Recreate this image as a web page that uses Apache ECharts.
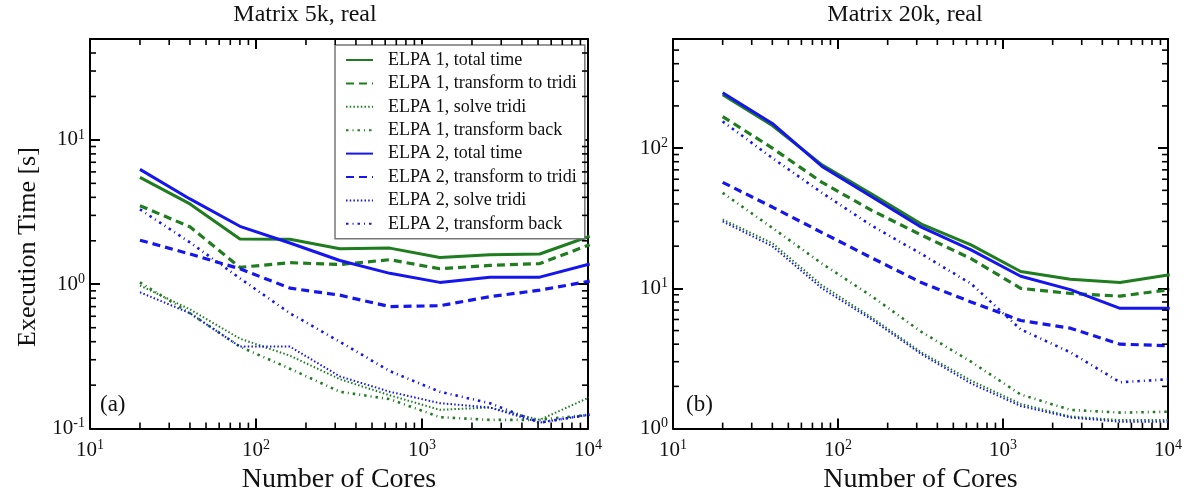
<!DOCTYPE html>
<html>
<head>
<meta charset="utf-8">
<script src="https://cdn.jsdelivr.net/npm/echarts@6/dist/echarts.min.js"></script>
<style>html,body{margin:0;padding:0;background:#fff;}#c{width:1186px;height:499px;}</style>
</head>
<body>
<div id="c"></div>
<script>
// ---- data ----
const cores = [20, 40, 80, 160, 320, 640, 1280, 2560, 5120, 10240];

// Matrix 5k, real
const e1Total5k = [5.5, 3.6, 2.06, 2.05, 1.76, 1.78, 1.53, 1.6, 1.62, 2.15];
const e1Tridi5k = [3.5, 2.5, 1.31, 1.41, 1.37, 1.48, 1.28, 1.35, 1.39, 1.88];
const e1Solve5k = [0.98, 0.67, 0.42, 0.32, 0.22, 0.17, 0.135, 0.14, 0.115, 0.165];
const e1Back5k  = [1.03, 0.63, 0.37, 0.26, 0.18, 0.16, 0.12, 0.115, 0.115, 0.125];
const e2Total5k = [6.25, 3.9, 2.52, 1.93, 1.46, 1.19, 1.03, 1.12, 1.12, 1.38];
const e2Tridi5k = [2.02, 1.62, 1.28, 0.94, 0.84, 0.70, 0.71, 0.82, 0.91, 1.05];
const e2Solve5k = [0.88, 0.63, 0.37, 0.37, 0.23, 0.18, 0.15, 0.14, 0.11, 0.125];
const e2Back5k  = [3.3, 1.95, 1.1, 0.63, 0.4, 0.25, 0.18, 0.15, 0.11, 0.125];

// Matrix 20k, real
const e1Total20k = [240, 145, 76, 47, 28.7, 20.4, 13.2, 11.6, 11.0, 12.5];
const e1Tridi20k = [168, 100, 57, 36, 24, 16.3, 10, 9.2, 8.8, 9.8];
const e1Solve20k = [31, 21, 10.5, 6.2, 3.5, 2.2, 1.5, 1.22, 1.15, 1.15];
const e1Back20k  = [48, 27, 15, 8.8, 4.9, 3.0, 1.75, 1.36, 1.3, 1.32];
const e2Total20k = [248, 150, 74, 45, 27.3, 18.8, 12.2, 9.8, 7.2, 7.2];
const e2Tridi20k = [57, 38, 25, 16.5, 11, 8, 5.9, 5.2, 4.0, 3.9];
const e2Solve20k = [30, 20, 10, 6.0, 3.4, 2.1, 1.45, 1.2, 1.12, 1.12];
const e2Back20k  = [155, 85, 48, 28, 17.6, 10.8, 5.1, 3.5, 2.14, 2.25];

const seriesNames = [
  'ELPA 1, total time', 'ELPA 1, transform to tridi', 'ELPA 1, solve tridi', 'ELPA 1, transform back',
  'ELPA 2, total time', 'ELPA 2, transform to tridi', 'ELPA 2, solve tridi', 'ELPA 2, transform back'
];
const panelTitles = ['Matrix 5k, real', 'Matrix 20k, real'];
const panelTags = ['(a)', '(b)'];
const xTitle = 'Number of Cores';
const yTitle = 'Execution Time [s]';
const xRange = [10, 10000];
const yRanges = [[0.1, 50], [1, 600]];
const minorMultipliers = [2, 3, 4, 5, 6, 7, 8, 9];

// ---- styles ----
const FONT = 'Liberation Serif';
const GREEN = '#1f7d1f';
const BLUE = '#1515ee';
const dashStyles = [
  {type: 'solid', width: 3},
  {type: [8, 5], width: 3.2},
  {type: [1.5, 2.2], width: 2},
  {type: [2.5, 4, 1, 4], width: 2.6}
];

const panelData = [
  [e1Total5k, e1Tridi5k, e1Solve5k, e1Back5k, e2Total5k, e2Tridi5k, e2Solve5k, e2Back5k],
  [e1Total20k, e1Tridi20k, e1Solve20k, e1Back20k, e2Total20k, e2Tridi20k, e2Solve20k, e2Back20k]
];

const grids = [
  {left: 90, right: 598, top: 39, bottom: 64},
  {left: 673, right: 18, top: 39, bottom: 64}
];

function supFmt(v) {
  const l = Math.log10(v);
  const e = Math.round(l);
  if (Math.abs(l - e) > 1e-6) return '';
  return '{b|10}{e|' + e + '}';
}
const richSup = {
  b: {fontFamily: FONT, fontSize: 21, color: '#111', lineHeight: 24},
  e: {fontFamily: FONT, fontSize: 14, color: '#111', lineHeight: 14, verticalAlign: 'top'}
};
const axisLine = {show: true, lineStyle: {color: '#000', width: 2}};
const majorTick = {show: true, inside: true, length: 10, lineStyle: {color: '#000', width: 2}};

const xAxes = [], yAxes = [], series = [];
for (let g = 0; g < 2; g++) {
  xAxes.push({
    gridIndex: g, type: 'log', logBase: 10, min: xRange[0], max: xRange[1], position: 'bottom',
    axisLine, axisTick: majorTick, splitLine: {show: false},
    axisLabel: {formatter: supFmt, rich: richSup, margin: 10},
    name: xTitle, nameLocation: 'middle', nameGap: 37,
    nameTextStyle: {fontFamily: FONT, fontSize: 28, color: '#111'}
  });
  xAxes.push({
    gridIndex: g, type: 'log', logBase: 10, min: xRange[0], max: xRange[1], position: 'top',
    axisLine, axisTick: majorTick, splitLine: {show: false}, axisLabel: {show: false}
  });
  yAxes.push({
    gridIndex: g, type: 'log', logBase: 10, min: yRanges[g][0], max: yRanges[g][1], position: 'left',
    axisLine, axisTick: majorTick, splitLine: {show: false},
    axisLabel: {formatter: supFmt, rich: richSup, margin: 5}
  });
  yAxes.push({
    gridIndex: g, type: 'log', logBase: 10, min: yRanges[g][0], max: yRanges[g][1], position: 'right',
    axisLine, axisTick: majorTick, splitLine: {show: false}, axisLabel: {show: false}
  });

  for (let s = 0; s < 8; s++) {
    const st = dashStyles[s % 4];
    series.push({
      name: seriesNames[s], type: 'line', xAxisIndex: g * 2, yAxisIndex: g * 2,
      data: cores.map((c, i) => [c, panelData[g][s][i]]),
      symbol: 'none', showSymbol: false, smooth: false,
      lineStyle: {color: s < 4 ? GREEN : BLUE, width: st.width, type: st.type, cap: 'butt'},
      itemStyle: {color: s < 4 ? GREEN : BLUE},
      z: 3
    });
  }

  // minor ticks (log 2..9 per decade) on all four sides, via the axes' own scales
  const yr = yRanges[g];
  const minorData = [];
  for (let k = 1; k < 4; k++) minorMultipliers.forEach(m => minorData.push([m * Math.pow(10, k), yr[0], 0]));
  for (let k = Math.round(Math.log10(yr[0])); k < 3; k++) minorMultipliers.forEach(m => {
    const v = m * Math.pow(10, k);
    if (v < yr[1]) minorData.push([xRange[0], v, 1]);
  });
  series.push({
    type: 'custom', xAxisIndex: g * 2, yAxisIndex: g * 2, clip: false, silent: true, z: 5,
    data: minorData,
    renderItem: (params, api) => {
      const kind = api.value(2);
      const L = 6;
      const ls = {stroke: '#000', lineWidth: 1.6};
      if (kind === 0) {
        const v = api.value(0);
        const b = api.coord([v, yr[0]]);
        const t = api.coord([v, yr[1]]);
        return {type: 'group', children: [
          {type: 'line', shape: {x1: b[0], y1: b[1], x2: b[0], y2: b[1] - L}, style: ls},
          {type: 'line', shape: {x1: t[0], y1: t[1], x2: t[0], y2: t[1] + L}, style: ls}
        ]};
      } else {
        const v = api.value(1);
        const l = api.coord([xRange[0], v]);
        const r = api.coord([xRange[1], v]);
        return {type: 'group', children: [
          {type: 'line', shape: {x1: l[0], y1: l[1], x2: l[0] + L, y2: l[1]}, style: ls},
          {type: 'line', shape: {x1: r[0], y1: r[1], x2: r[0] - L, y2: r[1]}, style: ls}
        ]};
      }
    }
  });
}

const chart = echarts.init(document.getElementById('c'), null, {renderer: 'canvas'});
chart.setOption({
  animation: false,
  backgroundColor: '#fff',
  grid: grids,
  xAxis: xAxes,
  yAxis: yAxes,
  legend: {
    data: seriesNames, orient: 'vertical', left: 335, top: 45,
    itemWidth: 27, itemHeight: 12, itemGap: 5.4,
    padding: [6, 8, 6, 10],
    backgroundColor: '#fff', borderColor: '#777', borderWidth: 1.5, borderRadius: 0,
    itemStyle: {color: 'rgba(0,0,0,0)', opacity: 0, borderWidth: 0},
    textStyle: {fontFamily: FONT, fontSize: 18, lineHeight: 18, color: '#111', padding: [0, 0, 0, 10]},
    selectedMode: false
  },
  graphic: [
    {type: 'text', x: 305, y: 3, style: {text: panelTitles[0], font: '24px "Liberation Serif"', fill: '#111', textAlign: 'center'}},
    {type: 'text', x: 905, y: 3, style: {text: panelTitles[1], font: '24px "Liberation Serif"', fill: '#111', textAlign: 'center'}},
    {type: 'text', x: 100, y: 393, style: {text: panelTags[0], font: '23px "Liberation Serif"', fill: '#111'}},
    {type: 'text', x: 686, y: 393, style: {text: panelTags[1], font: '23px "Liberation Serif"', fill: '#111'}},
    {type: 'text', x: 28, y: 247, rotation: Math.PI / 2,
     style: {text: yTitle, font: '26px "Liberation Serif"', fill: '#111', textAlign: 'center', textVerticalAlign: 'middle'}}
  ],
  series
});
</script>
</body>
</html>
